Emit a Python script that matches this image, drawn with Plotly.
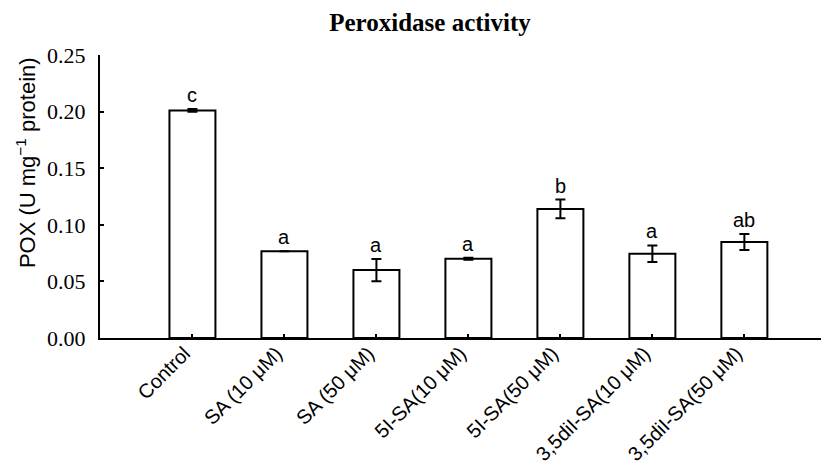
import plotly.graph_objects as go

categories = ["Control", "SA (10 μM)", "SA (50 μM)", "5I-SA(10 μM)", "5I-SA(50 μM)",
              "3,5diI-SA(10 μM)", "3,5diI-SA(50 μM)"]
pox_values = [0.201, 0.0766, 0.060, 0.070, 0.114, 0.0745, 0.0848]
pox_errors = [0.0012, 0.0, 0.0098, 0.0008, 0.0083, 0.0073, 0.007]
letters = ["c", "a", "a", "a", "b", "a", "ab"]
y_ticks = [0.00, 0.05, 0.10, 0.15, 0.20, 0.25]

xpos = list(range(len(categories)))

fig = go.Figure()
fig.add_trace(go.Bar(
    x=xpos, y=pox_values, width=0.5,
    marker=dict(color="white", line=dict(color="black", width=2)),
    error_y=dict(type="data", array=pox_errors, visible=True,
                 color="black", thickness=2, width=5),
    showlegend=False,
))

for xi, v, e, t in zip(xpos, pox_values, pox_errors, letters):
    fig.add_annotation(x=xi, y=v + e, text=t, showarrow=False,
                       yanchor="bottom", yshift=1,
                       font=dict(family="Liberation Sans, Arial", size=20, color="black"))

# y-axis title (placed like the reference, slightly above the plot centre)
fig.add_annotation(xref="paper", yref="paper", x=-0.1015, y=0.618,
                   text="POX (U mg<sup>−1</sup> protein)", textangle=-90,
                   showarrow=False, xanchor="center", yanchor="middle",
                   font=dict(family="Liberation Sans, Arial", size=22, color="black"))

# page body has an 8px margin, so the figure is 8px smaller than the window
fig.update_layout(
    width=821, height=465,
    margin=dict(l=92, r=0, t=47, b=135),
    plot_bgcolor="white", paper_bgcolor="white",
    title=dict(text="<b>Peroxidase activity</b>", x=0.514, xanchor="center",
               y=0.969, yanchor="middle",
               font=dict(family="Liberation Serif, Times New Roman", size=25, color="black")),
    bargap=0.5,
)
fig.update_xaxes(
    range=[-1.005, 6.92], tickvals=xpos, ticktext=categories,
    tickangle=-45, ticks="inside", ticklen=4, tickwidth=1.5, tickcolor="black",
    showline=True, linecolor="black", linewidth=2, showgrid=False, zeroline=False,
    automargin=False, ticklabelshift=-8, ticklabelstandoff=-6,
    tickfont=dict(family="Liberation Sans, Arial", size=20, color="black"),
)
fig.update_yaxes(
    range=[0, 0.25], tickvals=y_ticks, ticktext=[f"{v:.2f}" for v in y_ticks],
    ticks="inside", ticklen=4, tickwidth=1.5, tickcolor="black",
    showline=True, linecolor="black", linewidth=2, showgrid=False, zeroline=False,
    automargin=False, ticklabelstandoff=8,
    tickfont=dict(family="Liberation Serif, Times New Roman", size=22, color="black"),
)

fig.write_html("out.html")
